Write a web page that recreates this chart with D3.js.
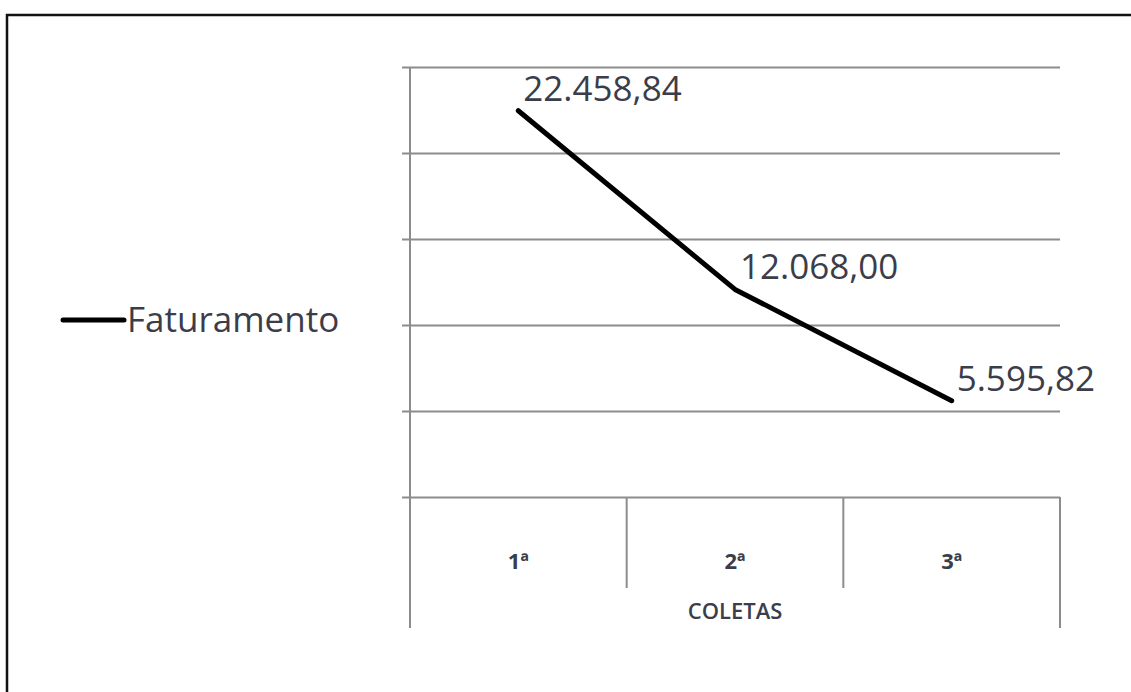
<!DOCTYPE html>
<html>
<head>
<meta charset="utf-8">
<script src="https://cdn.jsdelivr.net/npm/d3@7"></script>
<style>
  html, body { margin: 0; padding: 0; background: #fff; }
  svg { display: block; }
</style>
</head>
<body>
<svg id="chart" width="1131" height="692"></svg>
<script>
// Faturamento por coleta
const categories = ["1ª", "2ª", "3ª"];
const faturamento = [22458.84, 12068.00, 5595.82];
const valueLabels = ["22.458,84", "12.068,00", "5.595,82"];
const yTicks = [0, 5000, 10000, 15000, 20000, 25000];
const seriesName = "Faturamento";
const axisTitle = "COLETAS";

const svg = d3.select("#chart");
const W = 1131, H = 692;

const textColor = "#3b3d4a";
const gridColor = "#8c8c8c";
const fontFamily = "'Open Sans', 'Noto Sans', sans-serif";

// outer frame
svg.append("rect")
  .attr("x", 7).attr("y", 15)
  .attr("width", W).attr("height", H)
  .attr("fill", "none")
  .attr("stroke", "#111").attr("stroke-width", 2.5);

const plot = { left: 410, right: 1060, top: 67, bottom: 497 };

const x = d3.scaleBand()
  .domain(categories)
  .range([plot.left, plot.right])
  .paddingInner(0).paddingOuter(0);

const y = d3.scaleLinear()
  .domain([0, 25000])
  .range([plot.bottom, plot.top]);

// horizontal gridlines with short ticks on the left
const yAxis = d3.axisLeft(y)
  .tickValues(yTicks)
  .tickSize(-(plot.right - plot.left))
  .tickSizeOuter(0)
  .tickFormat("");

const gy = svg.append("g")
  .attr("transform", `translate(${plot.left},0)`)
  .call(yAxis);
gy.select(".domain").remove();
gy.selectAll(".tick line")
  .attr("x1", -8)
  .attr("stroke", gridColor)
  .attr("stroke-width", 2);

// left axis line running down through the category box
svg.append("line")
  .attr("x1", plot.left).attr("x2", plot.left)
  .attr("y1", plot.top).attr("y2", 628)
  .attr("stroke", gridColor).attr("stroke-width", 2);

// right edge of the category box
svg.append("line")
  .attr("x1", plot.right).attr("x2", plot.right)
  .attr("y1", plot.bottom).attr("y2", 628)
  .attr("stroke", gridColor).attr("stroke-width", 2);

// separators between categories
const bounds = categories.slice(1).map(c => x(c));
svg.selectAll("line.sep")
  .data(bounds)
  .enter().append("line")
  .attr("class", "sep")
  .attr("x1", d => d).attr("x2", d => d)
  .attr("y1", plot.bottom).attr("y2", 588)
  .attr("stroke", gridColor).attr("stroke-width", 2);

// category labels
svg.selectAll("text.cat")
  .data(categories)
  .enter().append("text")
  .attr("class", "cat")
  .attr("x", d => x(d) + x.bandwidth() / 2)
  .attr("y", 569)
  .attr("text-anchor", "middle")
  .attr("font-family", fontFamily)
  .attr("font-weight", "bold")
  .attr("font-size", 22)
  .attr("fill", textColor)
  .text(d => d);

// axis title
svg.append("text")
  .attr("x", (plot.left + plot.right) / 2)
  .attr("y", 619)
  .attr("text-anchor", "middle")
  .attr("font-family", fontFamily)
  .attr("font-weight", "600")
  .attr("font-size", 22)
  .attr("fill", textColor)
  .text(axisTitle);

// series line
const pts = categories.map((c, i) => ({ c, v: faturamento[i], label: valueLabels[i] }));
const line = d3.line()
  .x(d => x(d.c) + x.bandwidth() / 2)
  .y(d => y(d.v));

svg.append("path")
  .datum(pts)
  .attr("d", line)
  .attr("fill", "none")
  .attr("stroke", "#000")
  .attr("stroke-width", 5)
  .attr("stroke-linejoin", "round")
  .attr("stroke-linecap", "round");

// data labels
svg.selectAll("text.val")
  .data(pts)
  .enter().append("text")
  .attr("class", "val")
  .attr("x", d => x(d.c) + x.bandwidth() / 2 + 5)
  .attr("y", d => y(d.v) - 10)
  .attr("font-family", fontFamily)
  .attr("font-size", 35)
  .attr("fill", textColor)
  .text(d => d.label);

// legend
svg.append("line")
  .attr("x1", 63).attr("x2", 124)
  .attr("y1", 320).attr("y2", 320)
  .attr("stroke", "#000").attr("stroke-width", 5)
  .attr("stroke-linecap", "round");
svg.append("text")
  .attr("x", 127).attr("y", 332)
  .attr("font-family", fontFamily)
  .attr("font-size", 35)
  .attr("fill", textColor)
  .text(seriesName);
</script>
</body>
</html>
